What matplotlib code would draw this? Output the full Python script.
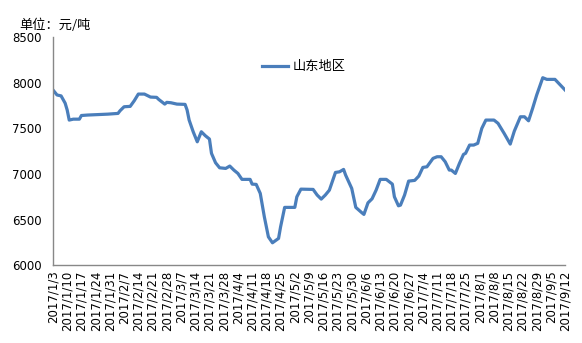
import matplotlib
matplotlib.use("Agg")
import matplotlib.pyplot as plt
import pandas as pd

# Shandong price series (yuan per tonne)
dates = [
    "2017-01-03", "2017-01-05", "2017-01-07", "2017-01-09", "2017-01-10", "2017-01-11",
    "2017-01-13", "2017-01-16", "2017-01-17", "2017-01-20", "2017-01-25", "2017-01-30",
    "2017-02-04", "2017-02-05", "2017-02-07", "2017-02-10", "2017-02-12", "2017-02-14",
    "2017-02-17", "2017-02-20", "2017-02-23", "2017-02-24", "2017-02-27", "2017-02-28",
    "2017-03-02", "2017-03-05", "2017-03-09", "2017-03-10", "2017-03-11", "2017-03-13",
    "2017-03-15", "2017-03-17", "2017-03-19", "2017-03-21", "2017-03-22", "2017-03-24",
    "2017-03-26", "2017-03-29", "2017-03-31", "2017-04-02", "2017-04-04", "2017-04-06",
    "2017-04-10", "2017-04-11", "2017-04-13", "2017-04-15", "2017-04-17", "2017-04-19",
    "2017-04-21", "2017-04-24", "2017-04-25", "2017-04-27", "2017-05-02", "2017-05-03",
    "2017-05-05", "2017-05-11", "2017-05-13", "2017-05-15", "2017-05-17", "2017-05-19",
    "2017-05-22", "2017-05-24", "2017-05-26", "2017-05-27", "2017-05-30", "2017-06-01",
    "2017-06-04", "2017-06-05", "2017-06-07", "2017-06-09", "2017-06-11", "2017-06-13",
    "2017-06-16", "2017-06-19", "2017-06-20", "2017-06-22", "2017-06-23", "2017-06-25",
    "2017-06-27", "2017-06-30", "2017-07-02", "2017-07-04", "2017-07-06", "2017-07-09",
    "2017-07-11", "2017-07-13", "2017-07-15", "2017-07-17", "2017-07-18", "2017-07-20",
    "2017-07-22", "2017-07-24", "2017-07-25", "2017-07-27", "2017-07-29", "2017-07-31",
    "2017-08-02", "2017-08-04", "2017-08-08", "2017-08-10", "2017-08-13", "2017-08-16",
    "2017-08-18", "2017-08-21", "2017-08-23", "2017-08-25", "2017-08-27", "2017-08-29",
    "2017-09-01", "2017-09-03", "2017-09-07", "2017-09-10", "2017-09-12",
]
prices = [
    7920, 7865, 7855, 7775, 7700, 7590,
    7600, 7600, 7640, 7645, 7650, 7655,
    7663, 7692, 7736, 7740, 7802, 7875,
    7875, 7842, 7839, 7817, 7765, 7784,
    7780, 7765, 7762, 7700, 7590, 7462,
    7352, 7462, 7418, 7382, 7225, 7122,
    7067, 7060, 7086, 7042, 7005, 6940,
    6940, 6888, 6885, 6786, 6530, 6310,
    6245, 6293, 6420, 6633, 6633, 6749,
    6833, 6830, 6768, 6724, 6768, 6822,
    7016, 7023, 7049, 6987, 6841, 6633,
    6574, 6556, 6683, 6727, 6822, 6940,
    6940, 6888, 6749, 6650, 6658, 6768,
    6921, 6929, 6976, 7071, 7078, 7170,
    7188, 7188, 7133, 7042, 7042, 7005,
    7115, 7214, 7225, 7316, 7316, 7335,
    7499, 7590, 7590, 7554, 7444, 7327,
    7469, 7626, 7626, 7582, 7718, 7864,
    8054, 8036, 8036, 7966, 7919,
]

tick_labels = [
    "2017/1/3", "2017/1/10", "2017/1/17", "2017/1/24", "2017/1/31", "2017/2/7",
    "2017/2/14", "2017/2/21", "2017/2/28", "2017/3/7", "2017/3/14", "2017/3/21",
    "2017/3/28", "2017/4/4", "2017/4/11", "2017/4/18", "2017/4/25", "2017/5/2",
    "2017/5/9", "2017/5/16", "2017/5/23", "2017/5/30", "2017/6/6", "2017/6/13",
    "2017/6/20", "2017/6/27", "2017/7/4", "2017/7/11", "2017/7/18", "2017/7/25",
    "2017/8/1", "2017/8/8", "2017/8/15", "2017/8/22", "2017/8/29", "2017/9/5",
    "2017/9/12",
]
y_ticks = [6000, 6500, 7000, 7500, 8000, 8500]
series_name = "山东地区"
unit_label = "单位：元/吨"

plt.rcParams["font.family"] = ["Noto Sans CJK SC", "DejaVu Sans"]

x = pd.to_datetime(dates)
tick_pos = pd.to_datetime(tick_labels, format="%Y/%m/%d")

fig = plt.figure(figsize=(5.82, 3.43), dpi=100)
ax = fig.add_axes([0.091, 0.227, 0.880, 0.665])

line_color = "#4A7EBB"
ax.plot(x, prices, color=line_color, linewidth=2.3, solid_joinstyle="round",
        label=series_name)

ax.set_xlim(tick_pos[0], tick_pos[-1])
ax.set_ylim(y_ticks[0], y_ticks[-1])
ax.set_yticks(y_ticks)
ax.set_yticklabels([str(v) for v in y_ticks], fontsize=8.5, family="DejaVu Sans")
ax.set_xticks(tick_pos)
ax.set_xticklabels(tick_labels, rotation=90, fontsize=8.5, family="DejaVu Sans")
ax.tick_params(axis="both", length=0, pad=4)
ax.tick_params(axis="y", pad=8)

for side in ("top", "right"):
    ax.spines[side].set_visible(False)
for side in ("left", "bottom"):
    ax.spines[side].set_color("#888888")
    ax.spines[side].set_linewidth(1.0)

ax.legend(loc="upper left", bbox_to_anchor=(0.385, 0.95), frameon=False,
          fontsize=9.5, handlelength=2.0, handletextpad=0.3)

fig.text(0.033, 0.927, unit_label, fontsize=9.5, ha="left", va="center")

fig.savefig("out.png", dpi=100)
